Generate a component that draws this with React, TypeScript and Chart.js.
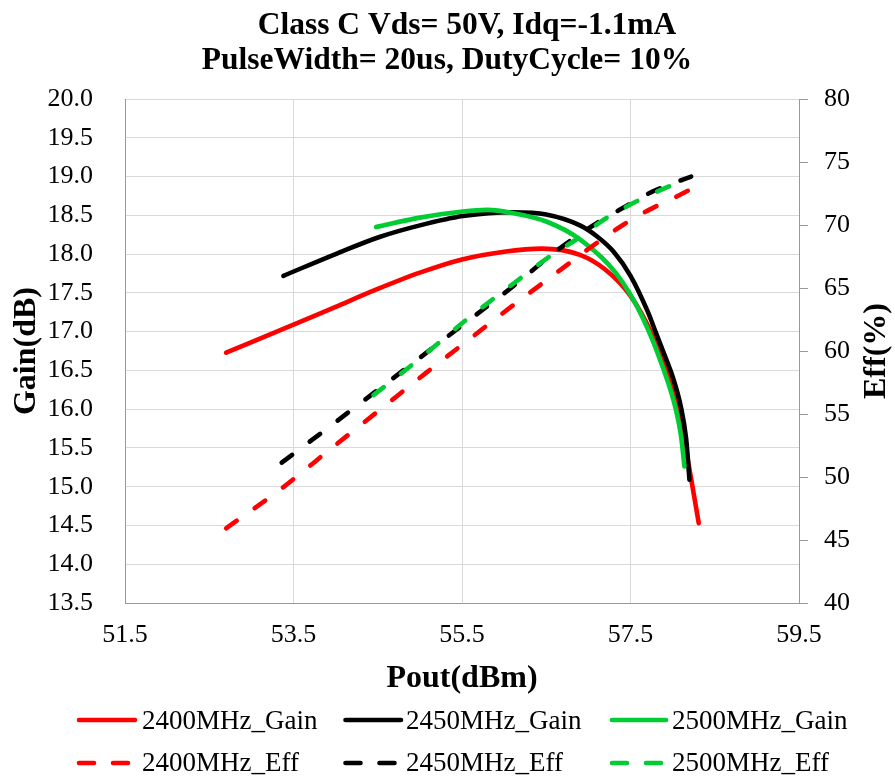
import { useEffect, useRef } from "react";
import { Chart, registerables } from "chart.js";

Chart.register(...registerables);

const FONT = '"Liberation Serif", "Times New Roman", serif';

const titleLines = ["Class C Vds= 50V, Idq=-1.1mA", "PulseWidth= 20us, DutyCycle= 10%"];
const xTitle = "Pout(dBm)";
const yTitle = "Gain(dB)";
const y1Title = "Eff(%)";

const seriesNames = [
  "2400MHz_Gain",
  "2450MHz_Gain",
  "2500MHz_Gain",
  "2400MHz_Eff",
  "2450MHz_Eff",
  "2500MHz_Eff",
];
const seriesColors = ["#ff0000", "#000000", "#00cc33", "#ff0000", "#000000", "#00cc33"];

// Gain curves (left axis)
const pout2400G = [52.7, 53.5, 54.0, 54.5, 55.0, 55.5, 56.0, 56.45, 56.9, 57.2, 57.5, 57.75, 57.96, 58.12, 58.22, 58.31];
const gain2400 = [16.73, 17.09, 17.32, 17.55, 17.76, 17.93, 18.03, 18.07, 17.99, 17.8, 17.46, 16.98, 16.42, 15.7, 15.1, 14.53];

const pout2450G = [53.38, 54.0, 54.52, 55.0, 55.51, 56.1, 56.5, 56.9, 57.1, 57.3, 57.5, 57.7, 57.8, 57.9, 58.0, 58.1, 58.16, 58.2];
const gain2450 = [17.72, 18.0, 18.22, 18.37, 18.49, 18.54, 18.51, 18.37, 18.23, 18.03, 17.72, 17.27, 16.99, 16.71, 16.42, 16.02, 15.62, 15.09];

const pout2500G = [54.48, 55.0, 55.51, 55.8, 56.1, 56.5, 56.9, 57.33, 57.64, 57.88, 58.04, 58.1, 58.14];
const gain2500 = [18.35, 18.47, 18.55, 18.57, 18.53, 18.42, 18.19, 17.75, 17.19, 16.55, 15.99, 15.65, 15.26];

// Efficiency curves (right axis)
const pout2400E = [52.7, 53.38, 54.0, 54.5, 55.08, 55.6, 56.1, 56.66, 57.0, 57.41, 57.72, 58.0, 58.22];
const eff2400 = [45.93, 49.2, 52.55, 55.2, 58.3, 61.0, 63.6, 66.4, 68.1, 70.0, 71.2, 72.1, 72.85];

const pout2450E = [53.36, 53.85, 54.68, 55.43, 56.1, 56.66, 57.13, 57.45, 57.72, 58.0, 58.22];
const eff2450 = [51.14, 53.6, 57.83, 61.67, 65.1, 68.15, 70.27, 71.5, 72.52, 73.3, 73.84];

const pout2500E = [54.45, 55.0, 55.5, 56.1, 56.54, 56.89, 57.2, 57.52, 57.8, 58.04, 58.14];
const eff2500 = [56.5, 59.4, 62.2, 65.3, 67.5, 69.0, 70.5, 71.7, 72.6, 73.3, 73.6];

const xMin = 51.5;
const xMax = 59.5;
const xStep = 2;
const gainMin = 13.5;
const gainMax = 20;
const gainStep = 0.5;
const effMin = 40;
const effMax = 80;
const effStep = 5;

const LINE_W = 4.6;
const DASH = [13, 22];

function pts(xs: number[], ys: number[]) {
  return xs.map((x, i) => ({ x, y: ys[i] }));
}

const overlayPlugin = {
  id: "overlay",
  afterDraw(chart: any) {
    const ctx = chart.ctx as CanvasRenderingContext2D;
    const { left, right, top, bottom } = chart.chartArea;
    const midY = (top + bottom) / 2;
    ctx.save();
    ctx.fillStyle = "#000";
    ctx.textAlign = "center";
    ctx.textBaseline = "alphabetic";
    ctx.font = `bold 31.5px ${FONT}`;
    ctx.fillText(titleLines[0], 467, 33.5);
    ctx.fillText(titleLines[1], 447, 68.5);

    ctx.font = `bold 32px ${FONT}`;
    ctx.fillText(xTitle, (left + right) / 2, 687);

    ctx.save();
    ctx.translate(35, midY);
    ctx.rotate(-Math.PI / 2);
    ctx.fillText(yTitle, 0, 0);
    ctx.restore();

    ctx.save();
    ctx.translate(885, midY);
    ctx.rotate(-Math.PI / 2);
    ctx.fillText(y1Title, 0, 0);
    ctx.restore();

    // legend
    const cols = [
      { x0: 79, x1: 135, tx: 142 },
      { x0: 345.5, x1: 401, tx: 406 },
      { x0: 612, x1: 666, tx: 672 },
    ];
    const rows = [
      { ly: 720, ty: 729 },
      { ly: 763, ty: 771 },
    ];
    ctx.font = `27px ${FONT}`;
    ctx.textAlign = "left";
    seriesNames.forEach((name, i) => {
      const c = cols[i % 3];
      const r = rows[Math.floor(i / 3)];
      ctx.beginPath();
      ctx.strokeStyle = seriesColors[i];
      ctx.lineWidth = LINE_W;
      ctx.lineCap = "round";
      ctx.setLineDash(i >= 3 ? [15, 19] : []);
      ctx.moveTo(c.x0, r.ly);
      ctx.lineTo(c.x1, r.ly);
      ctx.stroke();
      ctx.setLineDash([]);
      ctx.fillStyle = "#000";
      ctx.fillText(name, c.tx, r.ty);
    });
    ctx.restore();
  },
};

export default function App() {
  const ref = useRef<HTMLCanvasElement | null>(null);

  useEffect(() => {
    document.body.style.margin = "0";
    const canvas = ref.current;
    if (!canvas) return;

    const seriesData = [
      pts(pout2400G, gain2400),
      pts(pout2450G, gain2450),
      pts(pout2500G, gain2500),
      pts(pout2400E, eff2400),
      pts(pout2450E, eff2450),
      pts(pout2500E, eff2500),
    ];

    const datasets = seriesData.map((d, i) => ({
      label: seriesNames[i],
      data: d,
      yAxisID: i < 3 ? "y" : "y1",
      borderColor: seriesColors[i],
      backgroundColor: seriesColors[i],
      borderWidth: LINE_W,
      borderDash: i < 3 ? [] : DASH,
      borderCapStyle: "round" as const,
      borderJoinStyle: "round" as const,
      pointRadius: 0,
      pointHoverRadius: 0,
      cubicInterpolationMode: "monotone" as const,
      fill: false,
      order: 5 - i,
    }));

    const tickFont = { family: FONT, size: 26 };

    const chart = new Chart(canvas, {
      type: "line",
      data: { datasets },
      plugins: [overlayPlugin],
      options: {
        animation: false,
        responsive: false,
        devicePixelRatio: 1,
        events: [],
        layout: { padding: { top: 99, bottom: 97, left: 0, right: 0 } },
        plugins: {
          legend: { display: false },
          title: { display: false },
          tooltip: { enabled: false },
        },
        scales: {
          x: {
            type: "linear",
            min: xMin,
            max: xMax,
            ticks: { stepSize: xStep, font: tickFont, color: "#000", padding: 17, maxRotation: 0 },
            grid: { color: "#d9d9d9", lineWidth: 1, drawTicks: false },
            border: { color: "#999999", width: 1 },
            afterFit: (s: any) => {
              s.height = 80;
            },
          },
          y: {
            type: "linear",
            position: "left",
            min: gainMin,
            max: gainMax,
            ticks: {
              stepSize: gainStep,
              font: tickFont,
              color: "#000",
              padding: 32,
              callback: (v: any) => Number(v).toFixed(1),
            },
            grid: { color: "#d9d9d9", lineWidth: 1, drawTicks: false },
            border: { color: "#999999", width: 1 },
            afterFit: (s: any) => {
              s.width = 125;
            },
          },
          y1: {
            type: "linear",
            position: "right",
            min: effMin,
            max: effMax,
            ticks: { stepSize: effStep, font: tickFont, color: "#000", padding: 16 },
            grid: { drawOnChartArea: false, drawTicks: true, tickLength: 9, color: "#999999" },
            border: { color: "#999999", width: 1 },
            afterFit: (s: any) => {
              s.width = 96;
            },
          },
        },
      },
    });

    return () => {
      chart.destroy();
    };
  }, []);

  return (
    <div style={{ width: 895, height: 780 }}>
      <canvas ref={ref} width={895} height={780} style={{ display: "block" }} />
    </div>
  );
}
